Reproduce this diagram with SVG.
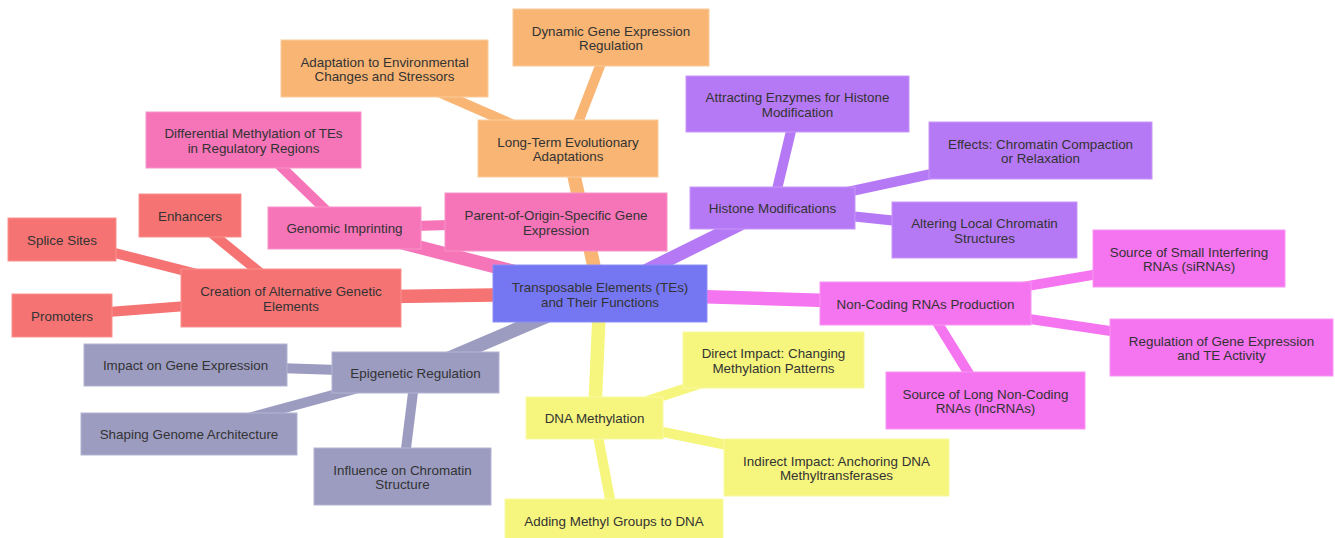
<svg xmlns="http://www.w3.org/2000/svg" width="1335" height="538" viewBox="0 0 1335 538">
  <style>
    .node text { font-family: "Liberation Sans", Arial, sans-serif; font-size: 13.4px; fill: #333333; text-anchor: middle; }
    .node rect { stroke-width: 1; }
    .edges line { stroke-linecap: butt; }
    .e1 { stroke-width: 13.5; }
    .e2 { stroke-width: 10; }
    .root rect { fill: #7577f2; stroke: #8c8ef6; }
    .s-red rect { fill: #f67373; stroke: #f99191; }
    .s-pink rect { fill: #f674b8; stroke: #f893c8; }
    .s-orange rect { fill: #f8b574; stroke: #facb9c; }
    .s-purple rect { fill: #b679f5; stroke: #c898f8; }
    .s-magenta rect { fill: #f574f0; stroke: #f896f4; }
    .s-grey rect { fill: #9c9cc1; stroke: #b3b3d1; }
    .s-yellow rect { fill: #f6f67e; stroke: #f9f9a4; }
    .c-red { stroke: #f67373; }
    .c-pink { stroke: #f674b8; }
    .c-orange { stroke: #f8b574; }
    .c-purple { stroke: #b679f5; }
    .c-magenta { stroke: #f574f0; }
    .c-grey { stroke: #9c9cc1; }
    .c-yellow { stroke: #f6f67e; }
  </style>

  <!-- connectors: straight lines between node centres, drawn under the nodes -->
  <g id="connectors" class="edges">
    <!-- root to branches -->
    <line class="e1 c-red" x1="600" y1="293.5" x2="291" y2="298"/>
    <line class="e1 c-pink" x1="600" y1="293.5" x2="344.5" y2="228"/>
    <line class="e1 c-orange" x1="600" y1="293.5" x2="568" y2="148.5"/>
    <line class="e1 c-purple" x1="600" y1="293.5" x2="772.5" y2="208"/>
    <line class="e1 c-magenta" x1="600" y1="293.5" x2="925.5" y2="303.5"/>
    <line class="e1 c-grey" x1="600" y1="293.5" x2="415.5" y2="372.5"/>
    <line class="e1 c-yellow" x1="600" y1="293.5" x2="594.5" y2="418"/>
    <!-- alternative genetic elements -->
    <line class="e2 c-red" x1="291" y1="298" x2="62" y2="239.5"/>
    <line class="e2 c-red" x1="291" y1="298" x2="190" y2="215.5"/>
    <line class="e2 c-red" x1="291" y1="298" x2="62" y2="315.5"/>
    <!-- genomic imprinting -->
    <line class="e2 c-pink" x1="344.5" y1="228" x2="556" y2="222"/>
    <line class="e2 c-pink" x1="344.5" y1="228" x2="253.5" y2="140"/>
    <!-- evolutionary adaptations -->
    <line class="e2 c-orange" x1="568" y1="148.5" x2="384.5" y2="68.5"/>
    <line class="e2 c-orange" x1="568" y1="148.5" x2="611" y2="37.5"/>
    <!-- histone modifications -->
    <line class="e2 c-purple" x1="772.5" y1="208" x2="797.5" y2="104"/>
    <line class="e2 c-purple" x1="772.5" y1="208" x2="1040.5" y2="150.5"/>
    <line class="e2 c-purple" x1="772.5" y1="208" x2="984.5" y2="230"/>
    <!-- non-coding RNAs -->
    <line class="e2 c-magenta" x1="925.5" y1="303.5" x2="1189" y2="258.5"/>
    <line class="e2 c-magenta" x1="925.5" y1="303.5" x2="1221.5" y2="347.5"/>
    <line class="e2 c-magenta" x1="925.5" y1="303.5" x2="985.5" y2="400.5"/>
    <!-- epigenetic regulation -->
    <line class="e2 c-grey" x1="415.5" y1="372.5" x2="185.5" y2="365"/>
    <line class="e2 c-grey" x1="415.5" y1="372.5" x2="189" y2="434"/>
    <line class="e2 c-grey" x1="415.5" y1="372.5" x2="402.5" y2="476.5"/>
    <!-- DNA methylation -->
    <line class="e2 c-yellow" x1="594.5" y1="418" x2="773.5" y2="360"/>
    <line class="e2 c-yellow" x1="594.5" y1="418" x2="836.5" y2="467.5"/>
    <line class="e2 c-yellow" x1="594.5" y1="418" x2="614" y2="520"/>
  </g>

  <!-- root -->
  <g id="root" class="node root">
    <rect x="493" y="265" width="214" height="57"/>
    <text x="600" y="291.5">Transposable Elements (TEs)</text>
    <text x="600" y="306.5">and Their Functions</text>
  </g>

  <!-- red branch -->
  <g id="alt-genetic-elements" class="node s-red">
    <rect x="181" y="269" width="220" height="58"/>
    <text x="291" y="296">Creation of Alternative Genetic</text>
    <text x="291" y="310.5">Elements</text>
  </g>
  <g id="splice-sites" class="node s-red">
    <rect x="8" y="218" width="108" height="43"/>
    <text x="62" y="244.5">Splice Sites</text>
  </g>
  <g id="enhancers" class="node s-red">
    <rect x="139" y="194" width="102" height="43"/>
    <text x="190" y="220.5">Enhancers</text>
  </g>
  <g id="promoters" class="node s-red">
    <rect x="12" y="294" width="100" height="43"/>
    <text x="62" y="320.5">Promoters</text>
  </g>

  <!-- pink branch -->
  <g id="genomic-imprinting" class="node s-pink">
    <rect x="268" y="207" width="153" height="42"/>
    <text x="344.5" y="233">Genomic Imprinting</text>
  </g>
  <g id="parent-of-origin" class="node s-pink">
    <rect x="445" y="193" width="222" height="58"/>
    <text x="556" y="220">Parent-of-Origin-Specific Gene</text>
    <text x="556" y="234.5">Expression</text>
  </g>
  <g id="differential-methylation" class="node s-pink">
    <rect x="146" y="112" width="215" height="56"/>
    <text x="253.5" y="138">Differential Methylation of TEs</text>
    <text x="253.5" y="152.5">in Regulatory Regions</text>
  </g>

  <!-- orange branch -->
  <g id="evolutionary-adaptations" class="node s-orange">
    <rect x="478" y="120" width="180" height="57"/>
    <text x="568" y="146.5">Long-Term Evolutionary</text>
    <text x="568" y="161">Adaptations</text>
  </g>
  <g id="environmental-adaptation" class="node s-orange">
    <rect x="281" y="40" width="207" height="57"/>
    <text x="384.5" y="66.5">Adaptation to Environmental</text>
    <text x="384.5" y="81">Changes and Stressors</text>
  </g>
  <g id="dynamic-regulation" class="node s-orange">
    <rect x="513" y="9" width="196" height="57"/>
    <text x="611" y="35.5">Dynamic Gene Expression</text>
    <text x="611" y="50">Regulation</text>
  </g>

  <!-- purple branch -->
  <g id="histone-modifications" class="node s-purple">
    <rect x="690" y="187" width="165" height="42"/>
    <text x="772.5" y="213">Histone Modifications</text>
  </g>
  <g id="attracting-enzymes" class="node s-purple">
    <rect x="686" y="76" width="223" height="56"/>
    <text x="797.5" y="102">Attracting Enzymes for Histone</text>
    <text x="797.5" y="116.5">Modification</text>
  </g>
  <g id="compaction-relaxation" class="node s-purple">
    <rect x="929" y="122" width="223" height="57"/>
    <text x="1040.5" y="148.5">Effects: Chromatin Compaction</text>
    <text x="1040.5" y="163">or Relaxation</text>
  </g>
  <g id="local-chromatin" class="node s-purple">
    <rect x="892" y="202" width="185" height="56"/>
    <text x="984.5" y="228">Altering Local Chromatin</text>
    <text x="984.5" y="242.5">Structures</text>
  </g>

  <!-- magenta branch -->
  <g id="non-coding-rnas" class="node s-magenta">
    <rect x="820" y="282" width="211" height="43"/>
    <text x="925.5" y="308.5">Non-Coding RNAs Production</text>
  </g>
  <g id="sirnas" class="node s-magenta">
    <rect x="1093" y="230" width="192" height="57"/>
    <text x="1189" y="256.5">Source of Small Interfering</text>
    <text x="1189" y="271">RNAs (siRNAs)</text>
  </g>
  <g id="te-activity" class="node s-magenta">
    <rect x="1110" y="319" width="223" height="57"/>
    <text x="1221.5" y="345.5">Regulation of Gene Expression</text>
    <text x="1221.5" y="360">and TE Activity</text>
  </g>
  <g id="lncrnas" class="node s-magenta">
    <rect x="886" y="372" width="199" height="57"/>
    <text x="985.5" y="398.5">Source of Long Non-Coding</text>
    <text x="985.5" y="413">RNAs (lncRNAs)</text>
  </g>

  <!-- grey branch -->
  <g id="epigenetic-regulation" class="node s-grey">
    <rect x="332" y="352" width="167" height="41"/>
    <text x="415.5" y="377.5">Epigenetic Regulation</text>
  </g>
  <g id="gene-expression-impact" class="node s-grey">
    <rect x="84" y="344" width="203" height="42"/>
    <text x="185.5" y="370">Impact on Gene Expression</text>
  </g>
  <g id="genome-architecture" class="node s-grey">
    <rect x="81" y="413" width="216" height="42"/>
    <text x="189" y="439">Shaping Genome Architecture</text>
  </g>
  <g id="chromatin-structure" class="node s-grey">
    <rect x="314" y="448" width="177" height="57"/>
    <text x="402.5" y="474.5">Influence on Chromatin</text>
    <text x="402.5" y="489">Structure</text>
  </g>

  <!-- yellow branch -->
  <g id="dna-methylation" class="node s-yellow">
    <rect x="526" y="397" width="137" height="42"/>
    <text x="594.5" y="423">DNA Methylation</text>
  </g>
  <g id="direct-impact" class="node s-yellow">
    <rect x="683" y="332" width="181" height="56"/>
    <text x="773.5" y="358">Direct Impact: Changing</text>
    <text x="773.5" y="372.5">Methylation Patterns</text>
  </g>
  <g id="indirect-impact" class="node s-yellow">
    <rect x="724" y="439" width="225" height="57"/>
    <text x="836.5" y="465.5">Indirect Impact: Anchoring DNA</text>
    <text x="836.5" y="480">Methyltransferases</text>
  </g>
  <g id="methyl-groups" class="node s-yellow">
    <rect x="505" y="499" width="218" height="43"/>
    <text x="614" y="525.5">Adding Methyl Groups to DNA</text>
  </g>
</svg>
